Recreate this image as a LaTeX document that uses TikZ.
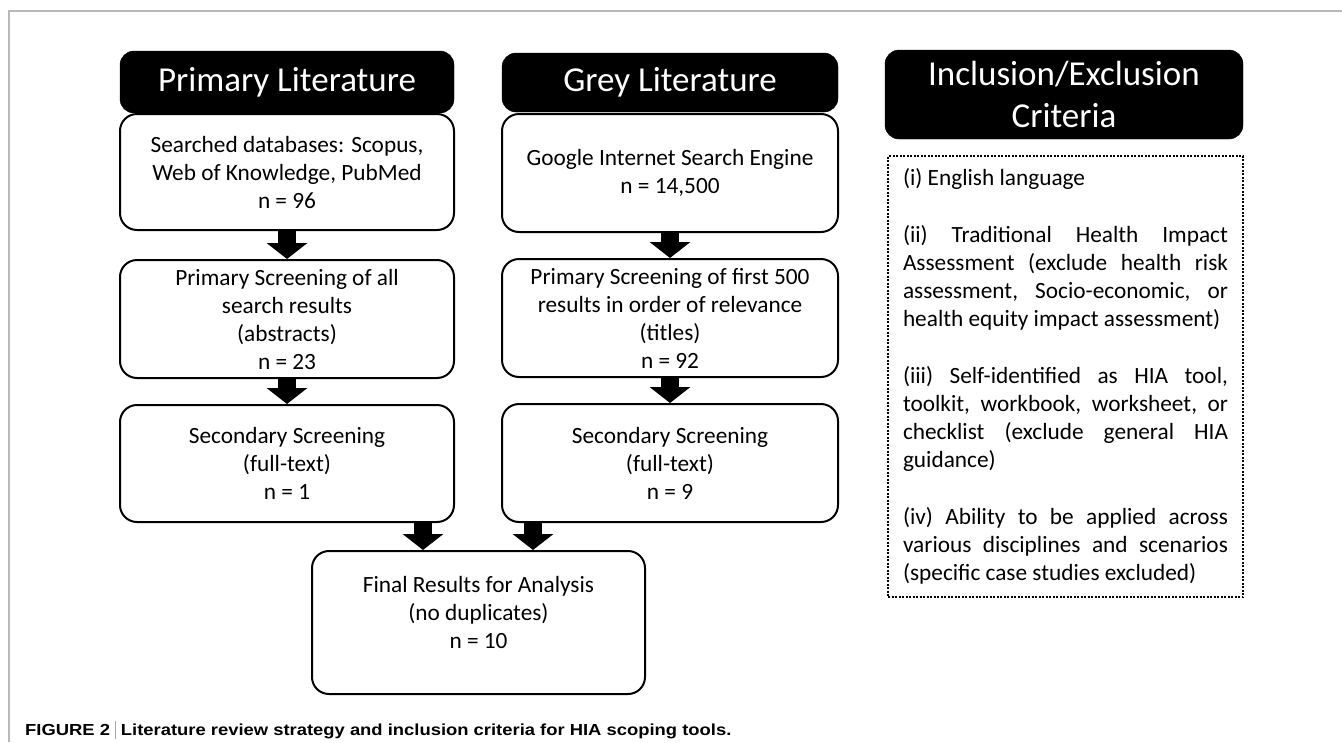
\documentclass[tikz,border=0pt]{standalone}
\usepackage{fontspec}
\usepackage{graphicx}
\setmainfont{Carlito}
\newfontfamily\capfont{Liberation Sans}
\usetikzlibrary{arrows.meta}
\begin{document}
\begin{tikzpicture}[x=1pt,y=-1pt,
  hdr/.style={fill=black, draw=black, rounded corners=14pt, text=white,
    font=\fontsize{35}{42}\selectfont, align=center, inner sep=0pt},
  flowbox/.style={draw=black, line width=2pt, fill=white, rounded corners=17pt,
    align=center, font=\fontsize{23.3}{28}\selectfont, inner sep=0pt},
  plain/.style={align=center, font=\fontsize{23.3}{28}\selectfont, inner sep=0pt},
  crit/.style={draw=black, line width=2pt, dash pattern=on 2pt off 1.5pt,
    text width=325pt, inner xsep=15pt, inner ysep=0pt, align=justify,
    font=\fontsize{23.3}{28}\selectfont},
  barrow/.style={line width=18pt, -{Triangle[width=40pt,length=16pt]}}
]
\useasboundingbox (0,0) rectangle (1342,742);
\fill[white] (0,0) rectangle (1342,742);
% frame
\draw[gray!55, line width=1.5pt] (9,742) -- (9,11) -- (1342,11);

% headers
\node[hdr, minimum width=334pt, minimum height=62pt] (h1) at (287,82) {Primary Literature};
\node[hdr, minimum width=336pt, minimum height=59pt] (h2) at (670,82.5) {Grey Literature};
\node[hdr, minimum width=358pt, minimum height=89pt] (h3) at (1064,94.5) {Inclusion/Exclusion\\Criteria};

% primary column
\node[flowbox, minimum width=334pt, minimum height=116pt] (p1) at (287,172)
  {Searched databases: Scopus,\\Web of Knowledge, PubMed\\n = 96};
\node[flowbox, minimum width=334pt, minimum height=118pt] (p2) at (287,319)
  {Primary Screening of all\\search results\\(abstracts)\\n = 23};
\node[flowbox, minimum width=334pt, minimum height=117pt] (p3) at (287,463.5)
  {Secondary Screening\\(full-text)\\n = 1};

% grey column
\node[flowbox, minimum width=336pt, minimum height=118pt] (g1) at (670,173)
  {Google Internet Search Engine\\n = 14,500};
\node[flowbox, minimum width=336pt, minimum height=118pt] (g2) at (670,318)
  {Primary Screening of first 500\\results in order of relevance\\(titles)\\n = 92};
\node[flowbox, minimum width=336pt, minimum height=118pt] (g3) at (670,463)
  {Secondary Screening\\(full-text)\\n = 9};

% final
\node[flowbox, minimum width=333pt, minimum height=143pt] (fin) at (478.5,622.5) {};
\node[plain] (fintext) at (478.5,612) {Final Results for Analysis\\(no duplicates)\\n = 10};

% arrows
\draw[barrow] (p1.south) -- (p2.north);
\draw[barrow] (p2.south) -- (p3.north);
\draw[barrow] (g1.south) -- (g2.north);
\draw[barrow] (g2.south) -- (g3.north);
\draw[barrow] ([xshift=-55.5pt]fin.north |- p3.south) -- ([xshift=-55.5pt]fin.north);
\draw[barrow] ([xshift=54.5pt]fin.north |- g3.south) -- ([xshift=54.5pt]fin.north);

% criteria
\node[crit, minimum height=441pt] (crit) at (1065.5,376.5) {%
\parindent=0pt\tolerance=10000\hbadness=10000\hyphenpenalty=10000\exhyphenpenalty=10000\relax
(i) English language\par\vspace{29pt}%
(ii) Traditional Health Impact\linebreak Assessment (exclude health risk\linebreak assessment, Socio-economic, or\linebreak health equity impact assessment)\par\vspace{29pt}%
(iii) Self-identified as HIA tool,\linebreak toolkit, workbook, worksheet, or\linebreak checklist (exclude general HIA\linebreak guidance)\par\vspace{29pt}%
(iv) Ability to be applied across\linebreak various disciplines and scenarios\linebreak (specific case studies excluded)};

% caption
\node[anchor=west, inner sep=0pt, font=\capfont\bfseries\fontsize{16}{19}\selectfont] (cap) at (25,730)
  {\scalebox{1.15}[1]{FIGURE 2 {\color{gray!70}\rule[-0.25em]{0.6pt}{1.15em}} Literature review strategy and inclusion criteria for HIA scoping tools.}};
\end{tikzpicture}
\end{document}
